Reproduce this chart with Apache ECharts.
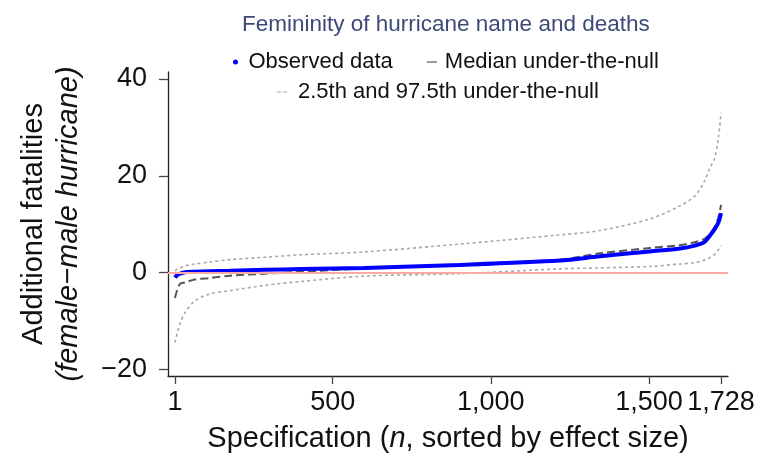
<!DOCTYPE html>
<html>
<head>
<meta charset="utf-8">
<script src="https://cdn.jsdelivr.net/npm/echarts@6/dist/echarts.min.js"></script>
<style>
html, body { margin: 0; padding: 0; background: #fff; }
#main { width: 764px; height: 471px; }
</style>
</head>
<body>
<div id="main"></div>
<script>
// specification index (sorted by effect size), sampled along the curves
const specN     = [1, 8, 17, 33, 64, 110, 175, 286, 400, 600, 900, 1218, 1345, 1503, 1598, 1645, 1675, 1692, 1708, 1720, 1728]
const observed  = [-1.0, -0.5, -0.2, 0.1, 0.2, 0.3, 0.4, 0.6, 0.75, 1.0, 1.6, 2.5, 3.4, 4.4, 5.0, 5.6, 6.3, 7.6, 9.0, 10.4, 12.3]
const medianNull = [-5.2, -3.6, -2.3, -2.0, -1.4, -1.1, -0.6, -0.2, 0.2, 0.9, 1.7, 2.7, 4.0, 5.1, 5.7, 6.3, 7.0, 8.0, 9.5, 11.5, 14.0]
const upperNull = [0.4, 0.7, 1.0, 1.4, 1.8, 2.2, 2.7, 3.2, 3.7, 4.3, 5.9, 7.8, 8.7, 11.1, 13.8, 15.8, 18.8, 21.5, 23.7, 28.0, 33.0]
const lowerNull = [-14.4, -12.5, -10.5, -8.2, -5.8, -4.4, -3.7, -2.6, -1.8, -0.7, -0.2, 0.8, 1.0, 1.3, 1.8, 2.1, 2.6, 3.1, 3.8, 4.8, 5.6]

const xTicks = [1, 500, 1000, 1500, 1728]
const yTicks = [-20, 0, 20, 40]

const pairs = vals => specN.map((n, i) => [n, vals[i]])
const FONT = '"Liberation Sans", Arial, Helvetica, sans-serif'
const QNAME = '2.5th and 97.5th under-the-null'

const chart = echarts.init(document.getElementById('main'), null, { renderer: 'canvas' })

const quantLine = { color: '#a8a8a8', width: 1.6, type: [3, 3] }

chart.setOption({
  animation: false,
  textStyle: { fontFamily: FONT, color: '#111' },
  title: {
    text: 'Femininity of hurricane name and deaths',
    left: 237,
    top: 8,
    textStyle: { fontFamily: FONT, fontSize: 22.5, fontWeight: 'normal', color: '#3d4a78' }
  },
  legend: [{
    left: 228,
    top: 45,
    itemWidth: 10,
    itemHeight: 5,
    itemGap: 34,
    selectedMode: false,
    itemStyle: { borderWidth: 0 },
    textStyle: { fontFamily: FONT, fontSize: 22, color: '#111', lineHeight: 24, padding: [0, 0, 0, 3] },
    data: [
      { name: 'Observed data', icon: 'circle' },
      { name: 'Median under-the-null', icon: 'path://M0,0H10V1.2H0Z' }
    ]
  }, {
    left: 272,
    top: 75,
    itemWidth: 10,
    itemHeight: 5,
    selectedMode: false,
    itemStyle: { borderWidth: 0 },
    textStyle: { fontFamily: FONT, fontSize: 22, color: '#111', lineHeight: 24, padding: [0, 0, 0, 6] },
    data: [
      { name: QNAME, icon: 'path://M0,0H4V1H0Z M6,0H10V1H6Z' }
    ]
  }],
  grid: { left: 168, right: 36, top: 72, bottom: 95 },
  xAxis: {
    type: 'value',
    min: -21,
    max: 1750,
    name: 'Specification ({i|n}, sorted by effect size)',
    nameLocation: 'middle',
    nameGap: 48,
    nameTextStyle: {
      fontFamily: FONT, fontSize: 29, color: '#111',
      rich: { i: { fontFamily: FONT, fontSize: 29, fontStyle: 'italic', color: '#111' } }
    },
    axisLine: { onZero: false, lineStyle: { color: '#222', width: 1.3 } },
    axisTick: { customValues: xTicks, length: 8, lineStyle: { color: '#444', width: 1.3 } },
    axisLabel: {
      customValues: xTicks,
      margin: 13,
      fontFamily: FONT,
      fontSize: 27,
      color: '#111',
      formatter: v => String(v).replace(/\B(?=(\d{3})+(?!\d))/g, ',')
    },
    splitLine: { show: false }
  },
  yAxis: {
    type: 'value',
    min: -21.3,
    max: 41.4,
    name: 'Additional fatalities\n{i|(female\u2212male hurricane)}',
    nameLocation: 'middle',
    nameGap: 82,
    nameTextStyle: {
      fontFamily: FONT, fontSize: 29, color: '#111', lineHeight: 35,
      rich: { i: { fontFamily: FONT, fontSize: 29, fontStyle: 'italic', color: '#111', lineHeight: 35 } }
    },
    axisLine: { show: true, onZero: false, lineStyle: { color: '#222', width: 1.3 } },
    axisTick: { show: true, customValues: yTicks, length: 9, lineStyle: { color: '#444', width: 1.3 } },
    axisLabel: {
      customValues: yTicks,
      margin: 21,
      fontFamily: FONT,
      fontSize: 27,
      color: '#111',
      formatter: v => (v < 0 ? '\u2212' + Math.abs(v) : String(v))
    },
    splitLine: { show: false }
  },
  series: [{
    name: QNAME,
    type: 'line',
    data: pairs(lowerNull),
    showSymbol: false,
    smooth: 0.3,
    itemStyle: { color: '#a8a8a8' },
    lineStyle: quantLine,
    markLine: {
      silent: true,
      symbol: 'none',
      label: { show: false },
      lineStyle: { color: '#ffa8a8', width: 2, type: 'solid' },
      data: [{ yAxis: 0 }]
    },
    z: 2
  }, {
    name: QNAME,
    type: 'line',
    data: pairs(upperNull),
    showSymbol: false,
    smooth: 0.3,
    itemStyle: { color: '#a8a8a8' },
    lineStyle: quantLine,
    z: 2
  }, {
    name: 'Median under-the-null',
    type: 'line',
    data: pairs(medianNull),
    showSymbol: false,
    smooth: 0.3,
    itemStyle: { color: '#555' },
    lineStyle: { color: '#555', width: 2, type: [8, 4] },
    z: 3
  }, {
    name: 'Observed data',
    type: 'line',
    data: pairs(observed),
    showSymbol: false,
    smooth: 0.3,
    itemStyle: { color: '#0000ff' },
    lineStyle: { color: '#0000ff', width: 4 },
    z: 4
  }]
})
</script>
</body>
</html>
